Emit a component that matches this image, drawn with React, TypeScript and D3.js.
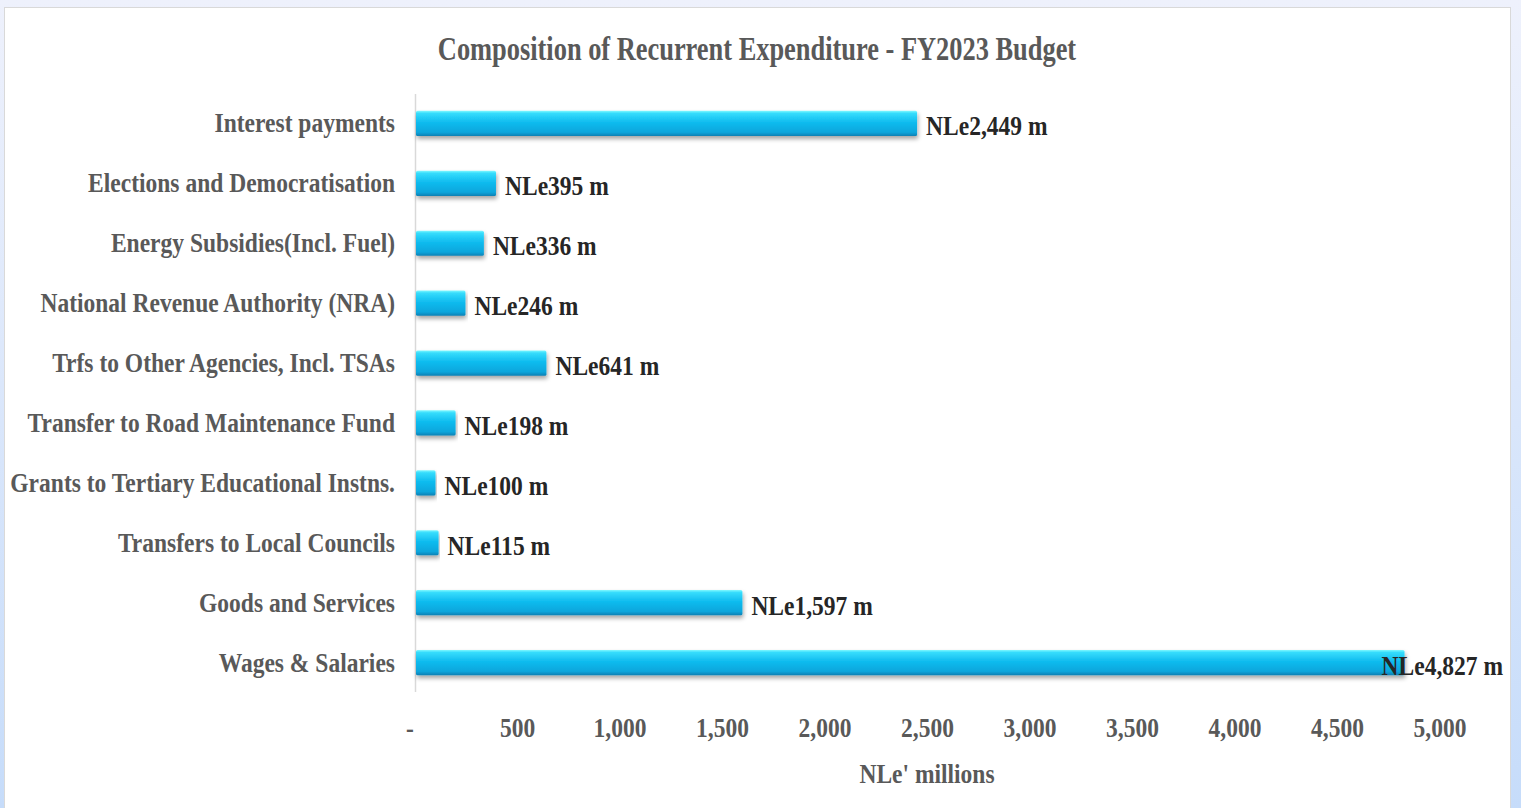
import React from 'react';
import * as d3 from 'd3';

const categories = [
  'Interest payments',
  'Elections and Democratisation',
  'Energy Subsidies(Incl. Fuel)',
  'National Revenue Authority (NRA)',
  'Trfs to Other Agencies, Incl. TSAs',
  'Transfer to Road Maintenance Fund',
  'Grants to Tertiary Educational Instns.',
  'Transfers to Local Councils',
  'Goods and Services',
  'Wages & Salaries',
];
const values = [2449, 395, 336, 246, 641, 198, 100, 115, 1597, 4827];
const ticks = [0, 500, 1000, 1500, 2000, 2500, 3000, 3500, 4000, 4500, 5000];

const W = 1521;
const H = 808;
const FONT = '"Liberation Serif", "Times New Roman", serif';
const SX_TITLE = 0.8; // condensed look of the original
const SX = 0.84;

export default function App() {
  const x = d3.scaleLinear().domain([0, 5000]).range([415, 1440]);
  const y = d3.scaleBand<string>().domain(categories).range([93.5, 692.5]).paddingInner(0.58).paddingOuter(0.29);
  const fmt = d3.format(',');
  const labelRight = 1503;

  const txt = (tx: number, ty: number, sx = SX) => `translate(${tx},${ty}) scale(${sx},1)`;

  return (
    <svg width={W} height={H} style={{ position: 'absolute', left: 0, top: 0 }} fontFamily={FONT}>
      <defs>
        <linearGradient id="bg" x1="0" y1="0" x2="0" y2="1">
          <stop offset="0%" stopColor="#eef1fc" />
          <stop offset="100%" stopColor="#c6dcfa" />
        </linearGradient>
        <linearGradient id="bar" x1="0" y1="0" x2="0" y2="1">
          <stop offset="0%" stopColor="#7ff8ff" />
          <stop offset="10%" stopColor="#36dcfc" />
          <stop offset="45%" stopColor="#10bcef" />
          <stop offset="85%" stopColor="#0aa6dc" />
          <stop offset="100%" stopColor="#0a80b4" />
        </linearGradient>
        <filter id="shadow" x="-5%" y="-30%" width="110%" height="180%">
          <feDropShadow dx="1" dy="3" stdDeviation="2" floodColor="#000" floodOpacity="0.35" />
        </filter>
      </defs>
      <rect x={0} y={0} width={W} height={H} fill="url(#bg)" />
      <rect x={4.5} y={7.5} width={1506} height={H} fill="#fff" stroke="#d9d9d9" />

      <text transform={txt(757, 60, SX_TITLE)} textAnchor="middle" fontSize={33} fontWeight="bold" fill="#595959">
        Composition of Recurrent Expenditure - FY2023 Budget
      </text>

      <line x1={415.5} x2={415.5} y1={94} y2={692} stroke="#d9d9d9" strokeWidth={1.5} />

      {categories.map((c, i) => {
        const cy = (y(c) as number) + y.bandwidth() / 2;
        const xe = x(values[i]);
        const lbl = `NLe${fmt(values[i])} m`;
        const overflow = xe + 10 + 125 > labelRight;
        return (
          <g key={c}>
            <text transform={txt(395, cy + 9)} textAnchor="end" fontSize={28} fontWeight="bold" fill="#595959">
              {c}
            </text>
            <rect
              x={x(0) + 1}
              y={y(c) as number}
              width={xe - x(0) - 1}
              height={y.bandwidth()}
              fill="url(#bar)"
              rx={1.5}
              filter="url(#shadow)"
            />
            <text
              transform={txt(overflow ? labelRight : xe + 9, cy + 12)}
              textAnchor={overflow ? 'end' : 'start'}
              fontSize={28}
              fontWeight="bold"
              fill="#262626"
            >
              {lbl}
            </text>
          </g>
        );
      })}

      {ticks.map((t) => (
        <text key={t} transform={txt(x(t) - (t === 0 ? 5 : 0), 737)} textAnchor="middle" fontSize={28} fontWeight="bold" fill="#595959">
          {t === 0 ? '-' : fmt(t)}
        </text>
      ))}

      <text transform={txt(927, 783)} textAnchor="middle" fontSize={28} fontWeight="bold" fill="#595959">
        NLe' millions
      </text>
    </svg>
  );
}
